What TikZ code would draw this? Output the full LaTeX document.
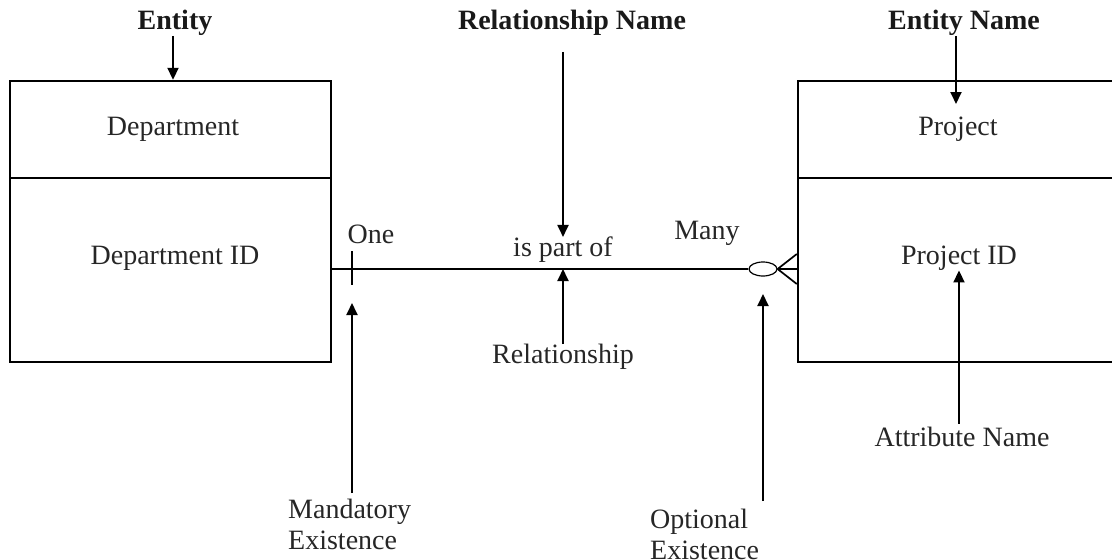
\documentclass[tikz,border=0pt]{standalone}
\usepackage{fontspec}
\setmainfont{Liberation Serif}
\usetikzlibrary{arrows.meta,shapes.geometric}
\begin{document}
\begin{tikzpicture}[x=1pt,y=-1pt,
  lbl/.style={font=\fontsize{28}{31}\selectfont, inner sep=0pt, text=black!85},
  hdr/.style={font=\fontsize{28}{30}\selectfont\bfseries, inner sep=0pt, text=black!90},
  box/.style={draw, line width=2.4pt, inner sep=0pt},
  link/.style={line width=1.7pt},
  pointer/.style={line width=1.9pt, -{Triangle[length=12pt,width=11pt]}}]
\useasboundingbox (0,0) rectangle (1112,560);
\clip (0,0) rectangle (1112,560);

% Department entity: name compartment over attribute compartment
\node[box, minimum width=321pt, minimum height=97pt] (depthead) at (170.5,129.5) {};
\node[box, minimum width=321pt, minimum height=184pt] (deptbody) at (170.5,270) {};
\node[lbl] (dept) at (173,129) {Department};
\node[lbl] (deptid) at (175,258) {Department ID};

% Project entity (runs off the right edge)
\node[box, minimum width=320pt, minimum height=97pt] (projhead) at (958,129.5) {};
\node[box, minimum width=320pt, minimum height=184pt] (projbody) at (958,270) {};
\node[lbl] (proj) at (958,129) {Project};
\node[lbl] (projid) at (959,258) {Project ID};

% Relationship line with optional-existence circle and crow's foot
\node[draw, ellipse, line width=1.2pt, minimum width=28pt, minimum height=14pt, inner sep=0pt] (opt) at (763,269) {};
\draw[link] (deptbody.east |- opt.west) -- (opt.west);
\draw[link] (opt.east) -- (projbody.west |- opt.east);
\draw[link] (opt.east) -- ([yshift=15pt]projbody.west |- opt.east);
\draw[link] (opt.east) -- ([yshift=-15pt]projbody.west |- opt.east);
\coordinate (tickt) at (352,251);
\coordinate (tickb) at (352,285);
\draw[link] (tickt) -- (tickb);

\node[lbl] (one) at (371,234) {One};
\node[lbl] (many) at (707,233) {Many};
\node[lbl] (ispart) at (563,250) {is part of};

% Annotation labels
\node[hdr] (entity) at (175,23) {Entity};
\node[hdr] (relname) at (572,23) {Relationship Name};
\node[hdr] (entname) at (964,23) {Entity Name};
\node[lbl] (rel) at (563,357) {Relationship};
\node[lbl] (attr) at (962,437) {Attribute Name};
\node[lbl, align=left, anchor=north west] (mand) at (288,499) {Mandatory\\Existence};
\node[lbl, align=left, anchor=north west] (optex) at (650,509) {Optional\\Existence};

% Annotation pointers
\coordinate (relline) at (563,269);
\coordinate (mandtip) at (352,303);
\coordinate (opttip) at (763,294);
\coordinate (entnametip) at (956,104);
\draw[pointer] (entity.south -| 173,0) -- (depthead.north -| 173,0);
\draw[pointer] ([yshift=-16pt]relname.south -| ispart) -- (ispart.north);
\draw[pointer] (entname.south -| entnametip) -- (entnametip);
\draw[pointer] (rel.north) -- (relline);
\draw[pointer] ([yshift=6pt]mand.north -| mandtip) -- (mandtip);
\draw[pointer] ([yshift=8pt]optex.north -| opttip) -- (opttip);
\draw[pointer] ([yshift=3pt]attr.north -| 959,0) -- (projid.south -| 959,0);
\end{tikzpicture}
\end{document}
